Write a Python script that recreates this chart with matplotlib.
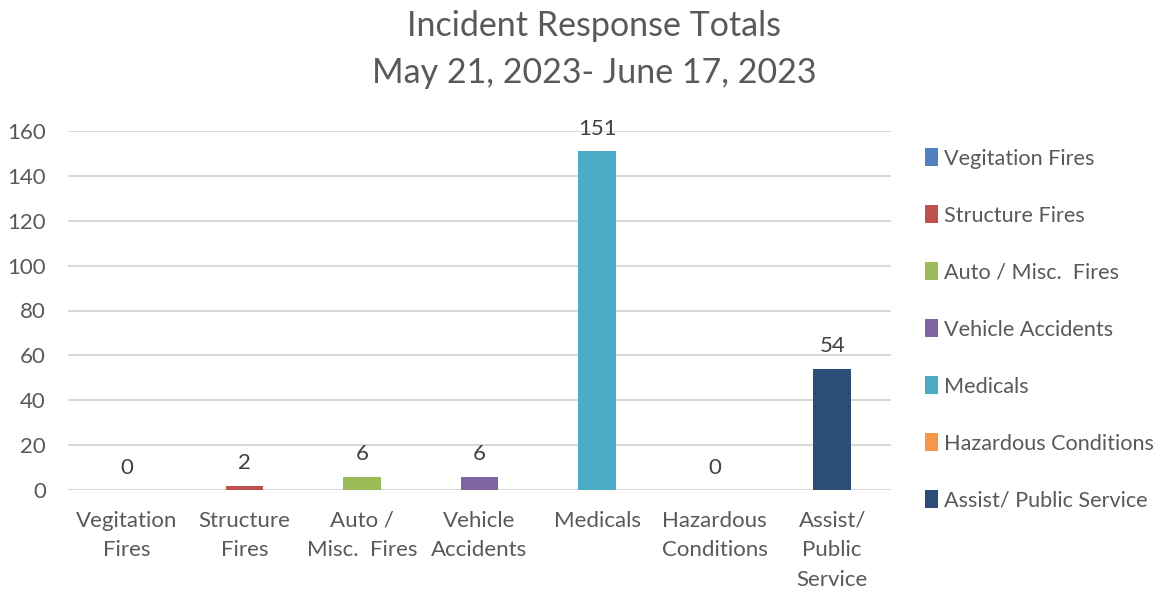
import matplotlib
matplotlib.use("Agg")
import matplotlib.pyplot as plt
import numpy as np

categories = ["Vegitation Fires", "Structure Fires", "Auto / Misc.  Fires",
              "Vehicle Accidents", "Medicals", "Hazardous Conditions",
              "Assist/ Public Service"]
tick_labels = ["Vegitation\nFires", "Structure\nFires", "Auto /\nMisc.  Fires",
               "Vehicle\nAccidents", "Medicals", "Hazardous\nConditions",
               "Assist/\nPublic\nService"]
counts = [0, 2, 6, 6, 151, 0, 54]
colors = ["#4f81bd", "#c0504d", "#9bbb59", "#8064a2", "#4bacc6", "#f79646", "#2c4d75"]

plt.rcParams['font.family'] = ['Lato', 'DejaVu Sans']
text_col = "#595959"

fig = plt.figure(figsize=(11.61, 5.91), dpi=100)
ax = fig.add_axes([68 / 1161, 1 - 490 / 591, (891 - 68) / 1161, (490 - 131) / 591])

x = np.arange(len(categories))
for i, (cat, val, col) in enumerate(zip(categories, counts, colors)):
    bars = ax.bar(x[i], val, width=0.32, color=col, label=cat, zorder=3)
    ax.bar_label(bars, labels=[str(val)], padding=9, fontsize=16, color="#404040")

ax.set_xlim(-0.5, len(categories) - 0.5)
ax.set_ylim(0, 160)
ax.set_yticks(range(0, 161, 20))
ax.yaxis.grid(True, color="#d9d9d9", linewidth=1.5, zorder=0)
for s in ax.spines.values():
    s.set_visible(False)
ax.axhline(0, color="#d9d9d9", linewidth=1.5, zorder=1)
ax.set_xticks(x)
ax.set_xticklabels(tick_labels, fontsize=16, color=text_col, linespacing=1.6)
ax.tick_params(axis='both', length=0, labelsize=16, colors=text_col)
ax.tick_params(axis='x', pad=15)
ax.tick_params(axis='y', pad=16)
for lbl in ax.get_xticklabels():
    lbl.set_verticalalignment('top')

fig.text(594 / 1161, 1 - 26 / 591, "Incident Response Totals", ha='center', va='center',
         fontsize=24.5, color=text_col)
fig.text(594 / 1161, 1 - 73 / 591, "May 21, 2023- June 17, 2023", ha='center', va='center',
         fontsize=24.5, color=text_col)

leg = fig.legend(loc='upper left', bbox_to_anchor=(905 / 1161, 1 - 129 / 591),
                 frameon=False, fontsize=15.6, handlelength=0.62, handleheight=0.85,
                 handletextpad=0.3, labelspacing=1.7, labelcolor=text_col)

fig.savefig("out.png", dpi=100)
